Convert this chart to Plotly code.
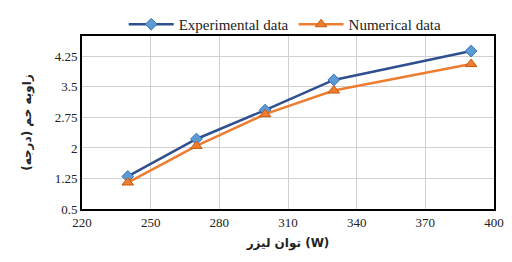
import plotly.graph_objects as go

power = [240, 270, 300, 330, 390]
experimental = [1.30, 2.22, 2.93, 3.67, 4.38]
numerical = [1.15, 2.05, 2.83, 3.41, 4.06]
y_ticks = [0.5, 1.25, 2, 2.75, 3.5, 4.25]
y_tick_text = ["0.5", "1.25", "2", "2.75", "3.5", "4.25"]
x_ticks = [220, 250, 280, 310, 340, 370, 400]

SERIF = "Liberation Serif"

fig = go.Figure()
fig.add_trace(go.Scatter(
    x=power, y=experimental, name="Experimental data", mode="lines+markers",
    line=dict(color="#2F4F8F", width=2.5),
    marker=dict(symbol="diamond", size=9, color="#5B9BD5", line=dict(color="#3A6FB0", width=1)),
))
fig.add_trace(go.Scatter(
    x=power, y=numerical, name="Numerical data", mode="lines+markers",
    line=dict(color="#ED7D31", width=2.5),
    marker=dict(symbol="triangle-up", size=10, color="#ED7D31", line=dict(color="#C55A11", width=1)),
))

fig.update_layout(
    width=504, height=254,
    margin=dict(l=74, r=18, t=28, b=53, autoexpand=False),
    paper_bgcolor="white", plot_bgcolor="white",
    font=dict(family=SERIF, size=13, color="#222"),
    showlegend=True,
    legend=dict(orientation="h", x=0.55, xref="container", xanchor="center", y=1.0,
                yref="container", yanchor="top", font=dict(family=SERIF, size=15),
                traceorder="normal", itemwidth=45, bgcolor="rgba(0,0,0,0)"),
    xaxis=dict(range=[220, 400], tickvals=x_ticks, showgrid=True, gridcolor="#D0D0D0",
               showline=True, linecolor="black", linewidth=2, mirror=True, ticks="",
               zeroline=False, automargin=False, tickfont=dict(family=SERIF, size=13),
               title=dict(text="<b>توان لیزر (W)</b>", font=dict(family="DejaVu Sans", size=12), standoff=10)),
    yaxis=dict(range=[0.5, 4.75], tickvals=y_ticks, ticktext=y_tick_text, showgrid=True,
               gridcolor="#D0D0D0", showline=True, linecolor="black", linewidth=2, mirror=True,
               ticks="", zeroline=False, automargin=False, tickfont=dict(family=SERIF, size=13),
               title=dict(text="<b>زاویه خم (درجه)</b>", font=dict(family="DejaVu Sans", size=12), standoff=20)),
)

fig.write_html("out.html")
